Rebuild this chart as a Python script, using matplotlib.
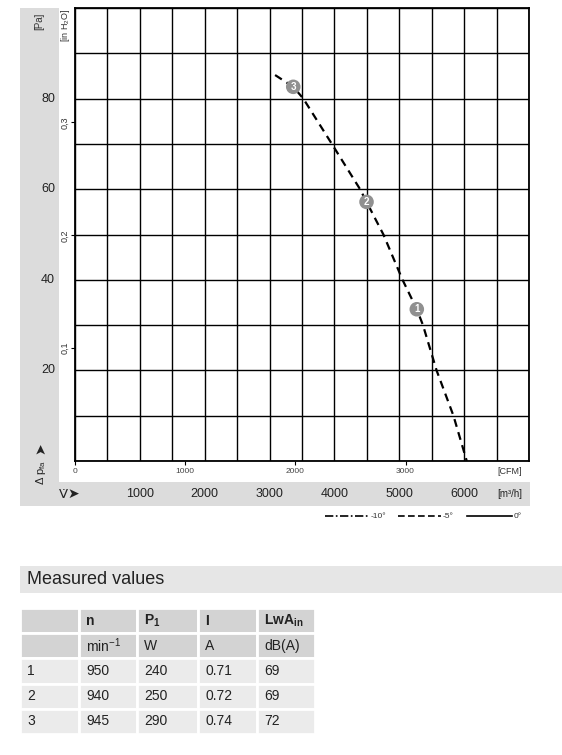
"""Fan curve sheet: pressure vs. air flow with measured operating points table."""
import matplotlib
matplotlib.use("Agg")
import matplotlib.pyplot as plt
import matplotlib.transforms as mtrans
from matplotlib import font_manager
from matplotlib.lines import Line2D
from matplotlib.patches import Rectangle

# -5 deg curve (air flow m3/h, static pressure Pa)
flow_m3h = [3085, 3365, 3520, 3960, 4395, 4495, 4755, 5050, 5270, 5365, 5575, 5835, 6040]
dp_pa = [85.2, 82.6, 80.0, 70.0, 60.0, 57.2, 50.0, 40.0, 33.5, 30.0, 20.0, 10.0, 0.0]

# measured operating points on the curve
pt_labels = ["1", "2", "3"]
pt_flow = [5270, 4495, 3365]
pt_dp = [33.5, 57.2, 82.6]

pa_ticks = [20, 40, 60, 80]
inh2o_ticks = [0.1, 0.2, 0.3]
cfm_ticks = [0, 1000, 2000, 3000]
m3h_ticks = [1000, 2000, 3000, 4000, 5000, 6000]

legend_labels = ["-10°", "-5°", "0°"]

# measured values table
tbl_head = ["", "n", "P$_\\mathregular{1}$", "I", "LwA$_\\mathregular{in}$"]
tbl_units = ["", "min$^\\mathregular{-1}$", "W", "A", "dB(A)"]
op_point = ["1", "2", "3"]
speed = ["950", "940", "945"]
power = ["240", "250", "290"]
current = ["0.71", "0.72", "0.74"]
noise = ["69", "69", "72"]

W, H = 562, 755
PA_PER_INH2O = 249.089
M3H_PER_CFM = 1.699

names = {f.name for f in font_manager.fontManager.ttflist}
NARROW = "Liberation Sans Narrow" if "Liberation Sans Narrow" in names else "Liberation Sans"
plt.rcParams["font.family"] = ["Liberation Sans", "DejaVu Sans"]


def fx(px):
    return px / W


def fy(py):
    return 1 - py / H


fig = plt.figure(figsize=(W / 100, H / 100), dpi=100)

# grey bands (left: pressure labels, bottom: m3/h labels)
fig.add_artist(Rectangle((fx(20), fy(482)), fx(39), 474 / H, transform=fig.transFigure,
                         color="#dcdcdc", lw=0, zorder=0))
fig.add_artist(Rectangle((fx(20), fy(506)), fx(510), 24 / H, transform=fig.transFigure,
                         color="#dcdcdc", lw=0, zorder=0))

ax = fig.add_axes([fx(75), fy(461), 454 / W, 453 / H])
ax.set_xlim(0, 7000)
ax.set_ylim(0, 100)
ax.set_xticks(range(0, 7001, 500))
ax.set_yticks(range(0, 101, 10))
ax.tick_params(length=0, labelbottom=False, labelleft=False)
ax.grid(color="black", lw=1.0)
for s in ax.spines.values():
    s.set_linewidth(1.3)

ax.plot(flow_m3h, dp_pa, color="black", lw=1.6, ls=(0, (3.6, 2.5)), zorder=3)
ax.scatter(pt_flow, pt_dp, s=110, color="#909090", edgecolors="none", zorder=4)
for lab, x, y in zip(pt_labels, pt_flow, pt_dp):
    ax.text(x, y, lab, color="white", fontsize=7, fontweight="bold",
            ha="center", va="center", zorder=5)

# secondary scales
sec_y = ax.secondary_yaxis("left", functions=(lambda p: p / PA_PER_INH2O,
                                              lambda i: i * PA_PER_INH2O))
sec_y.set_yticks(inh2o_ticks, [f"{v:.1f}".replace(".", ",") for v in inh2o_ticks])
sec_y.tick_params(length=3, width=0.8, pad=1, labelsize=6.5, labelcolor="#333333",
                  labelrotation=90)
for lbl in sec_y.get_yticklabels():
    lbl.set_va("center")
sec_y.spines["left"].set_visible(False)

sec_x = ax.secondary_xaxis("bottom", functions=(lambda m: m / M3H_PER_CFM,
                                                lambda c: c * M3H_PER_CFM))
sec_x.set_xticks(cfm_ticks, [str(v) for v in cfm_ticks])
sec_x.tick_params(length=3, width=0.8, pad=2, labelsize=6, labelcolor="#444444")
sec_x.spines["bottom"].set_visible(False)

# pressure labels in the grey band
tr_y = mtrans.blended_transform_factory(fig.transFigure, ax.transData)
for v in pa_ticks:
    ax.text(fx(48), v, str(v), transform=tr_y, ha="center", va="center",
            fontsize=9, family=NARROW, color="#222222")

# m3/h labels in the bottom band
tr_x = mtrans.blended_transform_factory(ax.transData, fig.transFigure)
for v in m3h_ticks:
    ax.text(v, fy(494), str(v), transform=tr_x, ha="center", va="center",
            fontsize=9, family=NARROW, color="#222222")

fig.text(fx(39), fy(21), "[Pa]", rotation=90, ha="center", va="center",
         fontsize=7, family=NARROW, color="#333333")
fig.text(fx(66), fy(25), "[in H$_\\mathregular{2}$O]", rotation=90, ha="center", va="center",
         fontsize=6.5, family=NARROW, color="#333333")
fig.text(fx(510), fy(471), "[CFM]", ha="center", va="center",
         fontsize=6.5, family=NARROW, color="#333333")
fig.text(fx(510), fy(494), "[m³/h]", ha="center", va="center",
         fontsize=7, family=NARROW, color="#222222")
fig.text(fx(41), fy(472), "Δ p$_\\mathregular{fa}$", rotation=90, ha="center", va="center",
         fontsize=8, color="#222222")
fig.text(fx(40), fy(448), "➤", rotation=90, ha="center", va="center",
         fontsize=10, family="DejaVu Sans", color="#222222")
fig.text(fx(63), fy(494), "V\u0307", ha="center", va="center",
         fontsize=9.5, family="DejaVu Sans", color="#222222")
fig.text(fx(73), fy(494), "➤", ha="center", va="center",
         fontsize=10, family="DejaVu Sans", color="#222222")

# legend of blade angle line styles
styles = [(0, (5, 1.5, 1, 1.5)), (0, (4, 2)), "-"]
seg = [(325, 369), (398, 441), (467, 512)]
for (x0, x1), st, lab in zip(seg, styles, legend_labels):
    fig.add_artist(Line2D([fx(x0), fx(x1)], [fy(516), fy(516)], transform=fig.transFigure,
                          color="black", lw=1.2, ls=st))
    fig.text(fx(x1 + 2), fy(516), lab, ha="left", va="center", fontsize=6,
             family=NARROW, color="#333333")

# measured values section
fig.add_artist(Rectangle((fx(20), fy(593)), 1 - fx(20), 27 / H, transform=fig.transFigure,
                         color="#e6e6e6", lw=0, zorder=0))
fig.text(fx(27), fy(580), "Measured values", ha="left", va="center", fontsize=13,
         color="#222222")

tax = fig.add_axes([fx(20), fy(734), 295 / W, 126 / H])
tax.axis("off")
rows = [tbl_head, tbl_units] + [list(r) for r in zip(op_point, speed, power, current, noise)]
colours = [["#d3d3d3"] * 5] * 2 + [["#ebebeb"] * 5] * 3
tbl = tax.table(cellText=rows, cellColours=colours, cellLoc="left", bbox=[0, 0, 1, 1],
                colWidths=[59, 58, 61, 59, 58])
tbl.auto_set_font_size(False)
for (r, c), cell in tbl.get_celld().items():
    cell.set_edgecolor("white")
    cell.set_linewidth(2)
    cell.PAD = 0.12
    cell.get_text().set_fontsize(10)
    cell.get_text().set_color("#222222")
    if r == 0:
        cell.get_text().set_fontweight("bold")

fig.savefig("out.png", dpi=100)
